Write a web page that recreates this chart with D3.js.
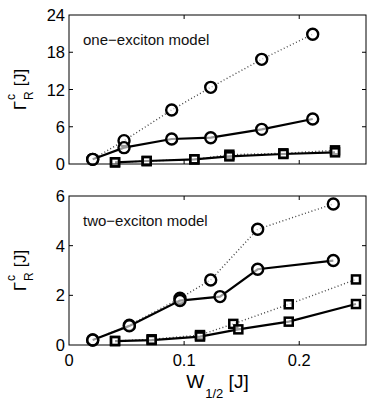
<!DOCTYPE html>
<html>
<head>
<meta charset="utf-8">
<script src="https://cdn.jsdelivr.net/npm/d3@7"></script>
<style>
  body { margin: 0; background: #fff; }
  svg text { font-family: "Liberation Sans", Arial, sans-serif; }
</style>
</head>
<body>
<svg id="chart" width="374" height="406"></svg>
<script>
// top panel: one-exciton model
const oneCircX = [0.0206, 0.0478, 0.0892, 0.1231, 0.1674, 0.2117]
const oneCircDotted = [0.75, 3.76, 8.7, 12.35, 16.86, 20.9]
const oneCircSolid = [0.75, 2.63, 4.03, 4.24, 5.58, 7.25]
const oneSqX = [0.040, 0.0675, 0.1089, 0.1393, 0.1862, 0.2311]
const oneSqDotted = [0.27, 0.48, 0.75, 1.5, 1.72, 2.2]
const oneSqSolid = [0.27, 0.48, 0.75, 1.23, 1.61, 1.88]

// bottom panel: two-exciton model
const twoCircXDotted = [0.0206, 0.0524, 0.0964, 0.1231, 0.1639, 0.2296]
const twoCircXSolid = [0.0206, 0.0524, 0.0964, 0.1312, 0.1639, 0.2296]
const twoCircDotted = [0.2, 0.8, 1.88, 2.62, 4.66, 5.68]
const twoCircSolid = [0.2, 0.77, 1.79, 1.95, 3.05, 3.4]
const twoSqXDotted = [0.040, 0.0718, 0.1138, 0.1427, 0.1909, 0.2493]
const twoSqXSolid = [0.040, 0.0718, 0.1138, 0.1471, 0.1909, 0.2493]
const twoSqDotted = [0.16, 0.23, 0.4, 0.85, 1.64, 2.64]
const twoSqSolid = [0.16, 0.2, 0.34, 0.63, 0.94, 1.65]

const xTicks = [0, 0.1, 0.2]
const oneYTicks = [0, 6, 12, 18, 24]
const twoYTicks = [0, 2, 4, 6]

const svg = d3.select('#chart')
const left = 69, right = 366

const x = d3.scaleLinear().domain([0, 0.258]).range([left, right])

function panel(top, bottom, yMax, yTicks, label, series, showX) {
  const y = d3.scaleLinear().domain([0, yMax]).range([bottom, top])
  const g = svg.append('g')

  // ticks (inside, mirrored like matlab)
  const tl = 4
  g.selectAll('.xt').data(xTicks.slice(1)).enter().append('line')
    .attr('x1', d => x(d)).attr('x2', d => x(d))
    .attr('y1', bottom).attr('y2', bottom - tl)
    .attr('stroke', '#000')
  g.selectAll('.xt2').data(xTicks.slice(1)).enter().append('line')
    .attr('x1', d => x(d)).attr('x2', d => x(d))
    .attr('y1', top).attr('y2', top + tl)
    .attr('stroke', '#000')
  g.selectAll('.yt').data(yTicks.slice(1, -1)).enter().append('line')
    .attr('x1', left).attr('x2', left + tl)
    .attr('y1', d => y(d)).attr('y2', d => y(d))
    .attr('stroke', '#000')
  g.selectAll('.yt2').data(yTicks.slice(1, -1)).enter().append('line')
    .attr('x1', right).attr('x2', right - tl)
    .attr('y1', d => y(d)).attr('y2', d => y(d))
    .attr('stroke', '#000')

  g.selectAll('.ylab').data(yTicks).enter().append('text')
    .attr('x', left - 4)
    .attr('y', d => y(d) + 6)
    .attr('text-anchor', 'end')
    .attr('font-size', 16.5)
    .text(d => d)

  if (showX) {
    g.selectAll('.xlab').data(xTicks).enter().append('text')
      .attr('x', d => x(d))
      .attr('y', bottom + 21)
      .attr('text-anchor', 'middle')
      .attr('font-size', 16.5)
      .text(d => d)
  }

  g.append('text')
    .attr('x', 83).attr('y', top + 30)
    .attr('font-size', 15)
    .attr('fill', '#111')
    .text(label)

  const line = d3.line().x(d => x(d[0])).y(d => y(d[1]))

  series.forEach(s => {
    const pts = s.xs.map((v, i) => [v, s.ys[i]])
    g.append('path')
      .attr('d', line(pts))
      .attr('fill', 'none')
      .attr('stroke', s.dotted ? '#444' : '#000')
      .attr('stroke-width', s.dotted ? 1.4 : 2.2)
      .attr('stroke-dasharray', s.dotted ? '1,2.4' : null)
    if (s.marker === 'o') {
      g.selectAll(null).data(pts).enter().append('circle')
        .attr('cx', d => x(d[0])).attr('cy', d => y(d[1]))
        .attr('r', 5.5)
        .attr('fill', '#fff')
        .attr('fill-opacity', 0.6)
        .attr('stroke', '#000').attr('stroke-width', 2.4)
    } else {
      g.selectAll(null).data(pts).enter().append('rect')
        .attr('x', d => x(d[0]) - 4).attr('y', d => y(d[1]) - 4)
        .attr('width', 8).attr('height', 8)
        .attr('fill', '#fff')
        .attr('fill-opacity', 0.6)
        .attr('stroke', '#000').attr('stroke-width', 2.5)
    }
  })

  g.append('rect')
    .attr('x', left).attr('y', top)
    .attr('width', right - left).attr('height', bottom - top)
    .attr('fill', 'none').attr('stroke', '#000').attr('stroke-width', 1)

  // y axis title: Γ with stacked c / R then [J]
  const cy = (top + bottom) / 2
  const t = g.append('g').attr('transform', `translate(26,${cy}) rotate(-90)`)
  const gam = t.append('text').attr('font-size', 16.5).text('Γ')
  const wG = gam.node().getComputedTextLength()
  const sup = t.append('text').attr('font-size', 12).attr('x', wG + 1).attr('y', -11).text('c')
  const sub = t.append('text').attr('font-size', 12).attr('x', wG + 1).attr('y', 7).text('R')
  const wS = Math.max(sup.node().getComputedTextLength(), sub.node().getComputedTextLength())
  const br = t.append('text').attr('font-size', 16.5).attr('x', wG + wS + 6).text('[J]')
  const total = wG + wS + 6 + br.node().getComputedTextLength()
  t.selectAll('text').attr('transform', `translate(${-total / 2},0)`)
}

panel(15, 164, 24, oneYTicks, 'one\u2212exciton model', [
  { xs: oneCircX, ys: oneCircDotted, dotted: true, marker: 'o' },
  { xs: oneSqX, ys: oneSqDotted, dotted: true, marker: 's' },
  { xs: oneCircX, ys: oneCircSolid, dotted: false, marker: 'o' },
  { xs: oneSqX, ys: oneSqSolid, dotted: false, marker: 's' }
], false)

panel(196, 345, 6, twoYTicks, 'two\u2212exciton model', [
  { xs: twoCircXDotted, ys: twoCircDotted, dotted: true, marker: 'o' },
  { xs: twoSqXDotted, ys: twoSqDotted, dotted: true, marker: 's' },
  { xs: twoCircXSolid, ys: twoCircSolid, dotted: false, marker: 'o' },
  { xs: twoSqXSolid, ys: twoSqSolid, dotted: false, marker: 's' }
], true)

// x axis title W_{1/2} [J]
const xt = svg.append('text')
  .attr('x', (left + right) / 2).attr('y', 388)
  .attr('text-anchor', 'middle')
  .attr('font-size', 19)
xt.append('tspan').text('W')
xt.append('tspan').attr('font-size', 13).attr('dy', 10).attr('dx', 1).text('1/2')
xt.append('tspan').attr('dy', -10).text(' [J]')
</script>
</body>
</html>
